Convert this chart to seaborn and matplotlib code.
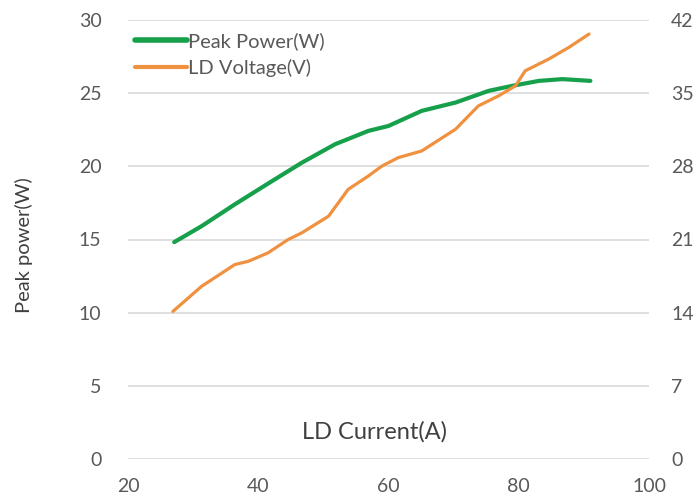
import matplotlib
matplotlib.use('Agg')
import matplotlib.pyplot as plt
import seaborn as sns
import pandas as pd
from matplotlib.lines import Line2D

# Peak power (left axis) vs LD current
power_current = [27.1, 31.3, 36.4, 41.5, 46.7, 51.8, 56.9, 60.0, 65.1,
                 70.3, 75.4, 79.0, 83.1, 86.7, 91.0]
peak_power = [14.82, 15.91, 17.40, 18.82, 20.25, 21.51, 22.42, 22.76, 23.79,
              24.36, 25.16, 25.50, 25.84, 25.96, 25.84]

# LD voltage (right axis) vs LD current
volt_current = [26.9, 31.3, 36.4, 38.5, 41.5, 44.6, 46.7, 50.8, 53.8, 56.9,
                59.0, 61.5, 65.1, 66.7, 70.3, 73.8, 76.9, 79.5, 81.0, 84.6,
                87.7, 90.8]
ld_voltage = [14.12, 16.52, 18.60, 18.92, 19.72, 21.00, 21.64, 23.23, 25.79,
              27.07, 28.03, 28.83, 29.47, 30.11, 31.55, 33.78, 34.74, 35.70,
              37.14, 38.26, 39.38, 40.66]

left_ticks = [0, 5, 10, 15, 20, 25, 30]
right_ticks = [0, 7, 14, 21, 28, 35, 42]
x_ticks = [20, 40, 60, 80, 100]

GREEN = '#17a04b'
ORANGE = '#f0913f'
TEXT = '#595959'

sns.set_theme(style='white')
plt.rcParams['font.family'] = ['Lato', 'DejaVu Sans']

df_p = pd.DataFrame({'current': power_current, 'power': peak_power})
df_v = pd.DataFrame({'current': volt_current, 'voltage': ld_voltage})

fig = plt.figure(figsize=(6.97, 5.0), dpi=100)
ax = fig.add_axes([0.1836, 0.082, 0.7475, 0.878])
ax2 = ax.twinx()

sns.lineplot(data=df_p, x='current', y='power', ax=ax, color=GREEN,
             linewidth=3.0, legend=False)
sns.lineplot(data=df_v, x='current', y='voltage', ax=ax2, color=ORANGE,
             linewidth=2.3, legend=False)

ax.set_xlim(20, 100)
ax.set_ylim(0, 30)
ax2.set_ylim(0, 42)
ax.set_xticks(x_ticks)
ax.set_yticks(left_ticks)
ax2.set_yticks(right_ticks)

ax.yaxis.grid(True, color='#d9d9d9', linewidth=1.2)
ax.xaxis.grid(False)
ax2.grid(False)
for a in (ax, ax2):
    for s in a.spines.values():
        s.set_visible(False)

ax.tick_params(axis='y', length=0, pad=19, labelsize=14, labelcolor=TEXT)
ax.tick_params(axis='x', length=0, pad=14, labelsize=14, labelcolor=TEXT)
ax2.tick_params(axis='y', length=0, pad=16, labelsize=14, labelcolor=TEXT)

ax.set_xlabel('')
ax.set_ylabel('Peak power(W)', fontsize=14.5, color='#404040')
ax.yaxis.set_label_coords(-0.182, 0.487)
ax2.set_ylabel('')

ax.text(0.474, 0.0615, 'LD Current(A)', transform=ax.transAxes, ha='center',
        va='center', fontsize=17, color='#404040')

handles = [Line2D([], [], color=GREEN, linewidth=4),
           Line2D([], [], color=ORANGE, linewidth=3)]
ax2.legend(handles, ['Peak Power(W)', 'LD Voltage(V)'], loc='upper left',
           bbox_to_anchor=(0.013, 0.973), frameon=False, fontsize=14.5,
           labelcolor=TEXT, handlelength=2.6, handletextpad=0.05,
           labelspacing=0.45, borderaxespad=0, borderpad=0)

fig.savefig('out.png', dpi=100)
